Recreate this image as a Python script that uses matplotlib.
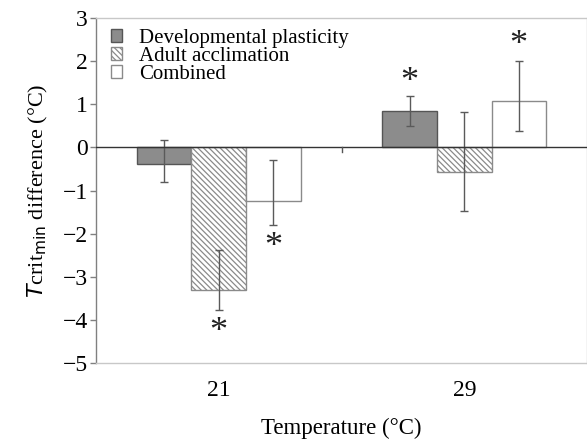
import numpy as np
import matplotlib
matplotlib.use('Agg')
from matplotlib import pyplot as plt
from matplotlib.patches import Patch

temps = ['21', '29']
series = ['Developmental plasticity', 'Adult acclimation', 'Combined']

dev_mean = [-0.38, 0.84]
dev_lo = [-0.81, 0.49]
dev_hi = [0.18, 1.18]

adult_mean = [-3.30, -0.58]
adult_lo = [-3.78, -1.48]
adult_hi = [-2.39, 0.81]

comb_mean = [-1.25, 1.08]
comb_lo = [-1.79, 0.39]
comb_hi = [-0.30, 2.00]

# asterisk positions (significance markers)
star_series = [1, 2, 0, 2]
star_group = [0, 0, 1, 1]
star_y = [-4.3, -2.32, 1.5, 2.37]

plt.rcParams['font.family'] = 'Liberation Serif'
plt.rcParams['hatch.color'] = '#9a9a9a'
plt.rcParams['hatch.linewidth'] = 0.9

fig = plt.figure(figsize=(5.87, 4.40), dpi=100)
ax = fig.add_axes([96 / 587, 1 - 363 / 440, 491 / 587, 345 / 440])

x = np.arange(len(temps))
width = 0.222
offsets = [-width, 0, width]
means = [dev_mean, adult_mean, comb_mean]
los = [dev_lo, adult_lo, comb_lo]
his = [dev_hi, adult_hi, comb_hi]
faces = ['#8c8c8c', 'white', 'white']
edges = ['#555555', '#8a8a8a', '#8a8a8a']
hatches = [None, '\\\\\\\\\\\\', None]

for i in range(3):
    m = np.array(means[i])
    ax.bar(x + offsets[i], m, width, color=faces[i], edgecolor=edges[i],
           hatch=hatches[i], linewidth=1.0, zorder=2)
    lo = np.array(los[i])
    hi = np.array(his[i])
    mid = (lo + hi) / 2
    ax.errorbar(x + offsets[i], mid, yerr=(hi - lo) / 2, fmt='none',
                ecolor='#5a5a5a', elinewidth=1.0, capsize=3, capthick=1.0,
                zorder=3)

for s, g, yv in zip(star_series, star_group, star_y):
    ax.text(x[g] + offsets[s], yv, '*', ha='center', va='center',
            fontsize=26, color='#222222')

ax.axhline(0, color='#333333', linewidth=1.0, zorder=4)
ax.plot([0.5, 0.5], [0, -0.1], color='#555555', linewidth=1.0, zorder=4)

ax.set_xlim(-0.5, 1.5)
ax.set_ylim(-5, 3)
ax.set_yticks(np.arange(-5, 4))
ax.set_yticklabels(['\u22125', '\u22124', '\u22123', '\u22122', '\u22121',
                    '0', '1', '2', '3'])
ax.set_xticks(x)
ax.set_xticklabels(temps)
ax.tick_params(axis='x', length=0, pad=12, labelsize=17)
ax.tick_params(axis='y', length=4, width=1, color='#808080', labelsize=17,
               pad=2)

for side in ['top', 'right', 'bottom']:
    ax.spines[side].set_color('#c8c8c8')
ax.spines['left'].set_color('#808080')
for sp in ax.spines.values():
    sp.set_linewidth(1.0)

ax.set_ylabel('$T$crit$_{\\mathrm{min}}$ difference (\u00b0C)', fontsize=16,
              labelpad=9)
ax.set_xlabel('Temperature (\u00b0C)', fontsize=16.5, labelpad=12)

handles = [Patch(facecolor=faces[i], edgecolor=edges[i], hatch=hatches[i])
           for i in range(3)]
leg = ax.legend(handles, series, loc='upper left', frameon=False,
                fontsize=15, handlelength=0.55, handleheight=0.55,
                handletextpad=0.8, labelspacing=-0.05,
                bbox_to_anchor=(0.005, 1.005), borderaxespad=0.2)

fig.savefig('out.png', dpi=100)
